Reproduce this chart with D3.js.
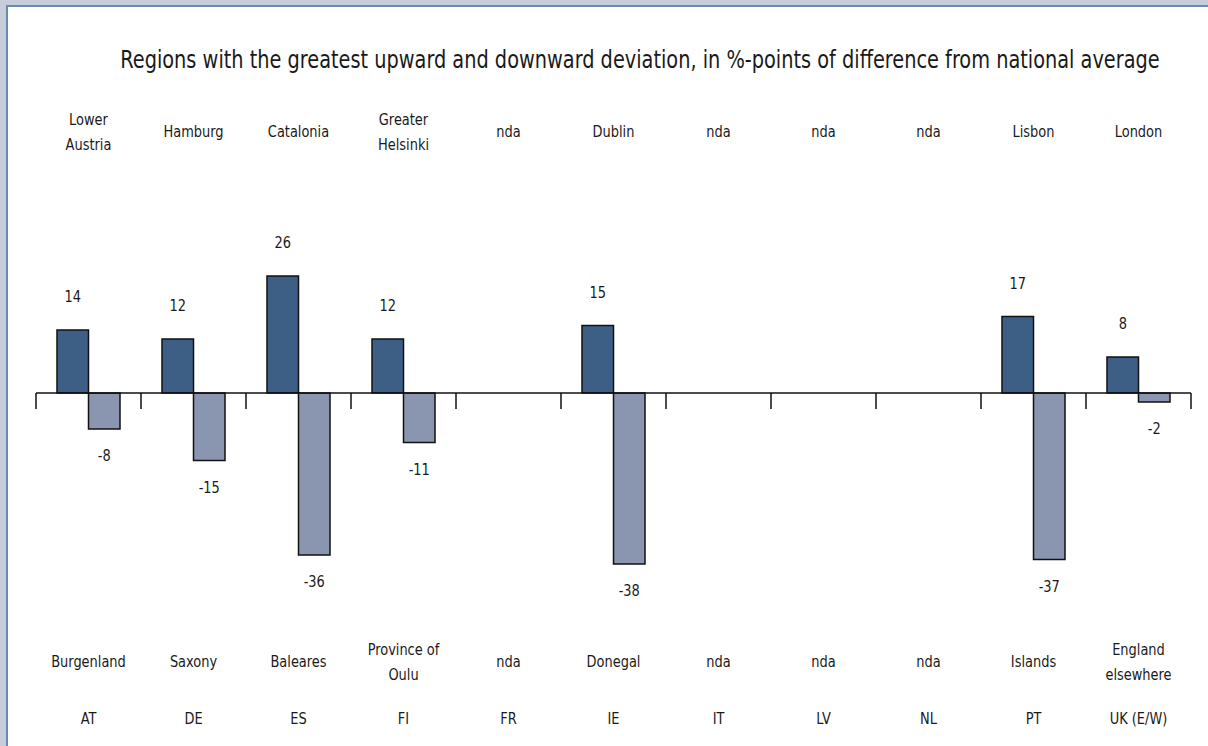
<!DOCTYPE html>
<html>
<head>
<meta charset="utf-8">
<script src="https://cdn.jsdelivr.net/npm/d3@7"></script>
<style>
  html, body { margin: 0; padding: 0; background: #c8cdda; }
  svg { display: block; }
</style>
</head>
<body>
<svg></svg>
<script>
const width = 1208;
const height = 746;

// country codes along the bottom
const countries = ["AT", "DE", "ES", "FI", "FR", "IE", "IT", "LV", "NL", "PT", "UK (E/W)"];
// regions with greatest upward deviation (top labels)
const upRegions = [["Lower", "Austria"], ["Hamburg"], ["Catalonia"], ["Greater", "Helsinki"], ["nda"], ["Dublin"], ["nda"], ["nda"], ["nda"], ["Lisbon"], ["London"]];
// regions with greatest downward deviation (bottom labels)
const downRegions = [["Burgenland"], ["Saxony"], ["Baleares"], ["Province of", "Oulu"], ["nda"], ["Donegal"], ["nda"], ["nda"], ["nda"], ["Islands"], ["England", "elsewhere"]];
// %-points, null = no data
const upValues = [14, 12, 26, 12, null, 15, null, null, null, 17, 8];
const downValues = [-8, -15, -36, -11, null, -38, null, null, null, -37, -2];

const fontFamily = "'DejaVu Sans Condensed', 'Liberation Sans Narrow', sans-serif";

const svg = d3.select('svg')
  .attr('width', width)
  .attr('height', height);

// panel frame
svg.append('rect')
  .attr('x', 7).attr('y', 6)
  .attr('width', width).attr('height', height)
  .attr('fill', 'white')
  .attr('stroke', '#6c8ab0')
  .attr('stroke-width', 2);

const x = d3.scaleBand()
  .domain(countries)
  .range([36, 1191])
  .paddingInner(0)
  .paddingOuter(0);

const y = d3.scaleLinear()
  .domain([-40, 30])
  .range([573, 258]);

const barW = x.bandwidth() * 0.3;
const y0 = y(0);

// title, squeezed horizontally to the width of the original
const title = svg.append('text')
  .attr('x', 0)
  .attr('y', 0)
  .attr('text-anchor', 'middle')
  .attr('font-family', fontFamily)
  .attr('font-size', 24)
  .attr('fill', '#1a1a1a')
  .text('Regions with the greatest upward and downward deviation, in %-points of difference from national average');
const titleLen = title.node().getComputedTextLength();
title.attr('transform', `translate(640,68) scale(${1040 / titleLen},1)`);

// bars
const bars = svg.append('g');
countries.forEach((c, i) => {
  const cx = x(c) + x.bandwidth() / 2;
  if (upValues[i] != null) {
    bars.append('rect')
      .attr('x', cx - barW).attr('y', y(upValues[i]))
      .attr('width', barW).attr('height', y0 - y(upValues[i]))
      .attr('fill', '#3d5f86')
      .attr('stroke', '#111').attr('stroke-width', 1.5);
    bars.append('text')
      .attr('class', 'lbl')
      .attr('x', cx - barW / 2).attr('y', y(upValues[i]) - 28)
      .attr('text-anchor', 'middle')
      .attr('font-family', fontFamily).attr('font-size', 16).attr('fill', '#1a1a1a')
      .text(upValues[i]);
  }
  if (downValues[i] != null) {
    bars.append('rect')
      .attr('x', cx).attr('y', y0)
      .attr('width', barW).attr('height', y(downValues[i]) - y0)
      .attr('fill', '#8a95b0')
      .attr('stroke', '#111').attr('stroke-width', 1.5);
    bars.append('text')
      .attr('class', 'lbl')
      .attr('x', cx + barW / 2).attr('y', y(downValues[i]) + 32)
      .attr('text-anchor', 'middle')
      .attr('font-family', fontFamily).attr('font-size', 16).attr('fill', '#1a1a1a')
      .text(downValues[i]);
  }
});

// zero line with ticks at band edges
svg.append('line')
  .attr('x1', 36).attr('x2', 1191)
  .attr('y1', y0).attr('y2', y0)
  .attr('stroke', '#111').attr('stroke-width', 1.5);
const edges = countries.map(c => x(c)).concat([x.range()[1]]);
svg.append('g')
  .selectAll('line')
  .data(edges)
  .enter().append('line')
    .attr('x1', d => d).attr('x2', d => d)
    .attr('y1', y0).attr('y2', y0 + 16)
    .attr('stroke', '#111').attr('stroke-width', 1.5);

// multi-line labels centred on a middle line
function labelRows(g, rows, midY) {
  g.selectAll('text')
    .data(rows)
    .enter().append('text')
      .attr('x', (d, i) => x(countries[i]) + x.bandwidth() / 2)
      .attr('text-anchor', 'middle')
      .attr('font-family', fontFamily)
      .attr('font-size', 16)
      .attr('fill', '#1a1a1a')
      .each(function (d) {
        const t = d3.select(this);
        const n = d.length;
        d.forEach((line, k) => {
          t.append('tspan')
            .attr('class', 'lbl')
            .attr('x', t.attr('x'))
            .attr('y', midY + 6 + (k - (n - 1) / 2) * 25)
            .text(line);
        });
      });
}

labelRows(svg.append('g'), upRegions, 131);
labelRows(svg.append('g'), downRegions, 661);
labelRows(svg.append('g'), countries.map(c => [c]), 718);

// squeeze the glyphs a little to get the narrow look of the original
svg.selectAll('.lbl').each(function () {
  const len = this.getComputedTextLength();
  d3.select(this)
    .attr('textLength', len * 0.9)
    .attr('lengthAdjust', 'spacingAndGlyphs');
});
</script>
</body>
</html>
